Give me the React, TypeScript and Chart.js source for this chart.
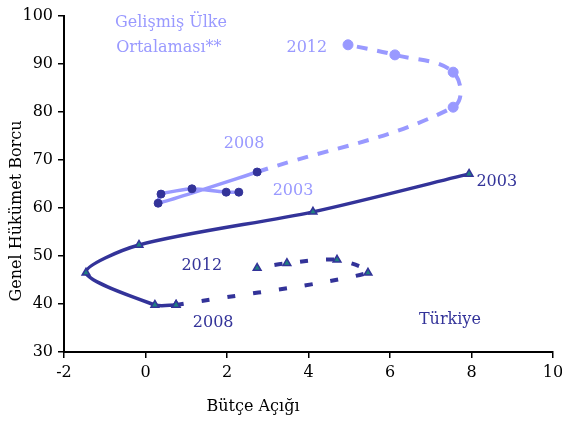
import React, { useEffect, useRef } from "react";
import { Chart, registerables } from "chart.js";

Chart.register(...registerables);

// Years shown on the chart
const years = [2003, 2004, 2005, 2006, 2007, 2008, 2009, 2010, 2011, 2012];
// Türkiye: budget deficit (x) and general government debt (y)
const turkeyDeficit = [7.94, 4.11, -0.16, -1.46, 0.23, 0.75, 5.46, 4.7, 3.47, 2.74];
const turkeyDebt = [67.1, 59.2, 52.3, 46.5, 39.8, 39.8, 46.5, 49.2, 48.5, 47.5];
// Developed-country average
const devDeficit = [2.29, 1.98, 1.14, 0.38, 0.31, 2.74, 7.55, 7.55, 6.12, 4.97];
const devDebt = [63.3, 63.3, 64.0, 62.9, 61.0, 67.5, 81.0, 88.3, 91.9, 94.0];
// Year where the solid line turns dashed
const splitYear = 2008;

const xTicks = { min: -2, max: 10, step: 2 };
const yTicks = { min: 30, max: 100, step: 10 };

const xTitle = "Bütçe Açığı";
const yTitle = "Genel Hükümet Borcu";

const NAVY = "#333399";
const LIGHT = "#9999FF";
const TEAL = "#1f8080";
const FONT = "'DejaVu Serif', 'Liberation Serif', serif";

// Text notes placed in data units
const notes = [
  { text: "2003", x: 8.62, y: 65.4, color: NAVY, align: "center" },
  { text: "2012", x: 1.38, y: 48.0, color: NAVY, align: "center" },
  { text: "2008", x: 1.66, y: 36.0, color: NAVY, align: "center" },
  { text: "Türkiye", x: 7.47, y: 36.7, color: NAVY, align: "center" },
  { text: "2003", x: 3.62, y: 63.5, color: LIGHT, align: "center" },
  { text: "2008", x: 2.42, y: 73.3, color: LIGHT, align: "center" },
  { text: "2012", x: 3.96, y: 93.3, color: LIGHT, align: "center" },
  { text: "Gelişmiş Ülke", x: -0.75, y: 98.5, color: LIGHT, align: "left" },
  { text: "Ortalaması**", x: -0.72, y: 93.3, color: LIGHT, align: "left" },
];

function pts(xs: number[], ys: number[], from: number, to: number) {
  const out: { x: number; y: number }[] = [];
  for (let i = from; i <= to; i++) out.push({ x: xs[i], y: ys[i] });
  return out;
}

const notesPlugin = {
  id: "notes",
  afterDatasetsDraw(chart: any) {
    const { ctx, scales } = chart;
    ctx.save();
    ctx.font = `16px ${FONT}`;
    ctx.textBaseline = "middle";
    for (const n of notes) {
      ctx.fillStyle = n.color;
      ctx.textAlign = n.align;
      ctx.fillText(n.text, scales.x.getPixelForValue(n.x), scales.y.getPixelForValue(n.y));
    }
    // axis titles
    ctx.fillStyle = "#000";
    ctx.textAlign = "center";
    ctx.fillText(xTitle, 253, 407);
    ctx.translate(17, 211);
    ctx.rotate(-Math.PI / 2);
    ctx.fillText(yTitle, 0, 0);
    ctx.restore();
  },
};

export default function App() {
  const ref = useRef<HTMLCanvasElement>(null);
  useEffect(() => {
    if (!ref.current) return;
    const split = years.indexOf(splitYear);
    const last = years.length - 1;
    const chart = new Chart(ref.current, {
      type: "scatter",
      data: {
        datasets: [
          {
            label: "Türkiye",
            data: pts(turkeyDeficit, turkeyDebt, 0, split),
            showLine: true,
            borderColor: NAVY,
            borderWidth: 3.5,
            tension: 0.28,
            pointStyle: "triangle",
            pointRadius: 4.5,
            pointBackgroundColor: TEAL,
            pointBorderColor: NAVY,
            pointBorderWidth: 1.5,
          },
          {
            label: "Türkiye 2008-2012",
            data: pts(turkeyDeficit, turkeyDebt, split, last),
            showLine: true,
            borderColor: NAVY,
            borderWidth: 4,
            borderDash: [8, 18],
            tension: 0.3,
            pointStyle: "triangle",
            pointRadius: 4.5,
            pointBackgroundColor: TEAL,
            pointBorderColor: NAVY,
            pointBorderWidth: 1.5,
          },
          {
            label: "Gelişmiş",
            data: pts(devDeficit, devDebt, 0, split),
            showLine: true,
            borderColor: LIGHT,
            borderWidth: 3.5,
            tension: 0.15,
            pointStyle: "circle",
            pointRadius: 4,
            pointBackgroundColor: NAVY,
            pointBorderColor: NAVY,
            pointBorderWidth: 1,
          },
          {
            label: "Gelişmiş 2008-2012",
            data: pts(devDeficit, devDebt, split, last),
            showLine: true,
            borderColor: LIGHT,
            borderWidth: 4,
            borderDash: [11, 10],
            tension: 0.4,
            pointStyle: "circle",
            pointRadius: [0, 5, 5, 5, 5],
            pointBackgroundColor: LIGHT,
            pointBorderColor: LIGHT,
            pointBorderWidth: 1,
          },
        ],
      },
      options: {
        responsive: false,
        animation: false,
        events: [],
        layout: { padding: { top: 16, right: 9, left: 0, bottom: 0 } },
        plugins: { legend: { display: false }, tooltip: { enabled: false } },
        scales: {
          x: {
            type: "linear",
            min: xTicks.min,
            max: xTicks.max,
            ticks: { stepSize: xTicks.step, color: "#000", font: { family: FONT, size: 16 }, padding: 5 },
            grid: { drawOnChartArea: false, drawTicks: true, tickLength: 6, color: "#000", lineWidth: 1.5 },
            border: { color: "#000", width: 2 },
            afterFit: (s: any) => {
              s.height = 69;
              s.paddingLeft = 0;
              s.paddingRight = 0;
            },
          },
          y: {
            type: "linear",
            min: yTicks.min,
            max: yTicks.max,
            ticks: { stepSize: yTicks.step, color: "#000", font: { family: FONT, size: 16 }, padding: 5 },
            grid: { drawOnChartArea: false, drawTicks: true, tickLength: 6, color: "#000", lineWidth: 1.5 },
            border: { color: "#000", width: 2 },
            afterFit: (s: any) => {
              s.width = 64;
              s.paddingTop = 0;
              s.paddingBottom = 0;
            },
          },
        },
      },
      plugins: [notesPlugin],
    } as any);
    return () => chart.destroy();
  }, []);
  return (
    <canvas
      ref={ref}
      width={562}
      height={421}
      style={{ position: "absolute", left: 0, top: 0, display: "block" }}
    />
  );
}
